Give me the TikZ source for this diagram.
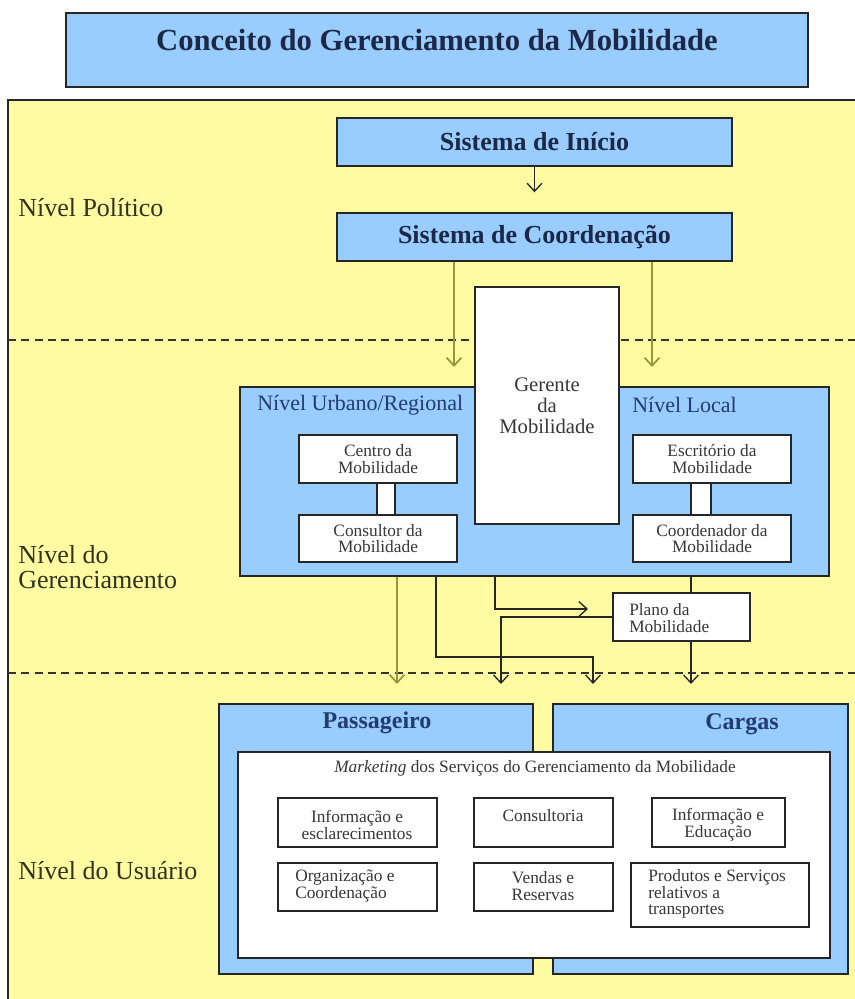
\documentclass[tikz,border=0pt]{standalone}
\usepackage{fontspec}
\setmainfont{Liberation Serif}
\usetikzlibrary{arrows.meta,fit}
\definecolor{bgyellow}{RGB}{255,251,163}
\definecolor{boxblue}{RGB}{153,204,255}
\definecolor{olivearrow}{RGB}{150,150,60}
\definecolor{navytext}{RGB}{28,40,70}
\definecolor{bluetext}{RGB}{35,60,110}
\definecolor{labeltext}{RGB}{50,50,30}
\definecolor{greytext}{RGB}{55,55,55}
\begin{document}
\begin{tikzpicture}[x=0.75pt,y=-0.75pt,
  bluebox/.style={draw=black!85, line width=1.1pt, fill=boxblue, inner sep=0pt},
  whitebox/.style={draw=black!85, line width=1.1pt, fill=white, inner sep=0pt},
  smallbox/.style={draw=black!85, line width=1pt, fill=white, inner sep=0pt},
  dashline/.style={draw=black!80, line width=0.9pt, dash pattern=on 6pt off 4pt},
  olivearr/.style={draw=olivearrow, line width=1.3pt, -{Straight Barb[length=6pt,width=11pt]}},
  blackarr/.style={draw=black!85, line width=1pt, -{Straight Barb[length=6pt,width=11pt]}},
  blackline/.style={draw=black!85, line width=1pt},
  levellabel/.style={anchor=west, inner sep=0pt, font=\fontsize{19.5}{19}\selectfont, text=labeltext, align=left},
  systext/.style={inner sep=0pt, font=\bfseries\fontsize{19.5}{20}\selectfont, text=navytext},
  headtext/.style={inner sep=0pt, font=\fontsize{16.5}{18}\selectfont, text=bluetext},
  grouptext/.style={inner sep=0pt, font=\bfseries\fontsize{18}{20}\selectfont, text=bluetext},
  smalltext/.style={inner sep=0pt, font=\fontsize{13}{12.5}\selectfont, text=greytext, align=center},
]
\useasboundingbox (0,0) rectangle (855,999);
\fill[white] (0,0) rectangle (855,999);

% title
\node[bluebox, fit={(66,13) (808,87)}] (titlebox) {};
\node[inner sep=0pt, font=\bfseries\fontsize{23}{24}\selectfont, text=navytext] (title) at (437,40) {Conceito do Gerenciamento da Mobilidade};

% yellow panel
\fill[bgyellow] (8,100) rectangle (855,999);
\draw[black!85, line width=1.1pt] (8,999) -- (8,100) -- (855,100);

% level labels
\node[levellabel] (lvlpol) at (18,208) {Nível Político};
\node[levellabel] (lvlger) at (18,567) {Nível do\\Gerenciamento};
\node[levellabel] (lvlusu) at (18,871) {Nível do Usuário};

% separators
\draw[dashline] (8,340) -- (855,340);
\draw[dashline] (8,673) -- (855,673);

% coordinates for connector ends
\coordinate (x436) at (436,0);
\coordinate (x495) at (495,0);
\coordinate (x691) at (691,0);
\coordinate (oa1) at (454,367);
\coordinate (oa2) at (652,367);
\coordinate (t1) at (397,684);
\coordinate (t2) at (593,684);
\coordinate (t3) at (588,609);
\coordinate (t4) at (501,684);
\coordinate (t5) at (691,684);

% political level
\node[bluebox, fit={(337,118) (732,166)}] (ini) {};
\node[systext] (initxt) at (ini.center) {Sistema de Início};
\node[bluebox, fit={(337,213) (732,261)}] (coord) {};
\node[systext] (coordtxt) at (coord.center) {Sistema de Coordenação};
\draw[blackarr, shorten >=15pt] (ini) -- (coord);
\draw[olivearr] (coord.south -| oa1) -- (oa1);
\draw[olivearr] (coord.south -| oa2) -- (oa2);

% management level
\node[bluebox, fit={(240,387) (829,576)}] (mgmt) {};
\node[whitebox, fit={(475,287) (619,524)}] (gerente) {};
\node[inner sep=0pt, font=\fontsize{15.5}{15.75}\selectfont, text=greytext, align=center] (gertxt) at (547,406) {Gerente\\da\\Mobilidade};
\node[headtext, anchor=west] (urb) at (257,405) {Nível Urbano/Regional};
\node[headtext, anchor=west] (loc) at (632,405) {Nível Local};

\node[smallbox, fit={(377,480) (395,518)}] (link1) {};
\node[smallbox, fit={(691,480) (711,518)}] (link2) {};
\node[smallbox, fit={(299,435) (457,483)}] (centro) {};
\node[smalltext] (centrotxt) at (centro.center) {Centro da\\Mobilidade};
\node[smallbox, fit={(299,515) (457,562)}] (consultor) {};
\node[smalltext] (consultortxt) at (consultor.center) {Consultor da\\Mobilidade};
\node[smallbox, fit={(633,435) (791,483)}] (escrit) {};
\node[smalltext] (escrittxt) at (escrit.center) {Escritório da\\Mobilidade};
\node[smallbox, fit={(633,515) (791,562)}] (coorden) {};
\node[smalltext] (coordentxt) at (coorden.center) {Coordenador da\\Mobilidade};

% plan
\node[smallbox, fit={(613,593) (750,641)}] (plano) {};
\node[smalltext, align=left, anchor=west] (planotxt) at (629,618) {Plano da\\Mobilidade};

% connectors management -> user
\draw[olivearr] (mgmt.south -| t1) -- (t1);
\draw[blackarr] (mgmt.south -| x436) |- (593,657) -- (t2);
\draw[blackarr] (mgmt.south -| x495) |- (t3);
\draw[blackarr] (plano.west) -| (t4);
\draw[blackline] (mgmt.south -| x691) -- (plano.north -| x691);
\draw[blackarr] (plano.south -| x691) -- (t5);

% user level
\node[bluebox, fit={(219,704) (533,974)}] (pass) {};
\node[bluebox, fit={(553,704) (848,974)}] (cargas) {};
\node[grouptext] (passtxt) at (377,723) {Passageiro};
\node[grouptext] (cargastxt) at (742,724) {Cargas};
\node[whitebox, fit={(238,752) (830,958)}] (mkt) {};
\node[smalltext] (mkttxt) at (535,768) {\textit{Marketing} dos Serviços do Gerenciamento da Mobilidade};

\node[smallbox, fit={(278,798) (437,847)}] (infoesc) {};
\node[smalltext] (infoesctxt) at (357,825) {Informação e\\esclarecimentos};
\node[smallbox, fit={(474,798) (613,847)}] (consult) {};
\node[smalltext] (consulttxt) at (543,816) {Consultoria};
\node[smallbox, fit={(652,798) (785,847)}] (infoedu) {};
\node[smalltext] (infoedutxt) at (718,825) {Informação e\\Educação};

\node[smallbox, fit={(278,863) (437,911)}] (org) {};
\node[smalltext, align=left, anchor=west] (orgtxt) at (295,886) {Organização e\\Coordenação};
\node[smallbox, fit={(474,863) (613,911)}] (vendas) {};
\node[smalltext] (vendastxt) at (543,886) {Vendas e\\Reservas};
\node[smallbox, fit={(631,863) (809,927)}] (prod) {};
\node[smalltext, align=left, anchor=west] (prodtxt) at (648,894) {Produtos e Serviços\\relativos a\\transportes};
\end{tikzpicture}
\end{document}
